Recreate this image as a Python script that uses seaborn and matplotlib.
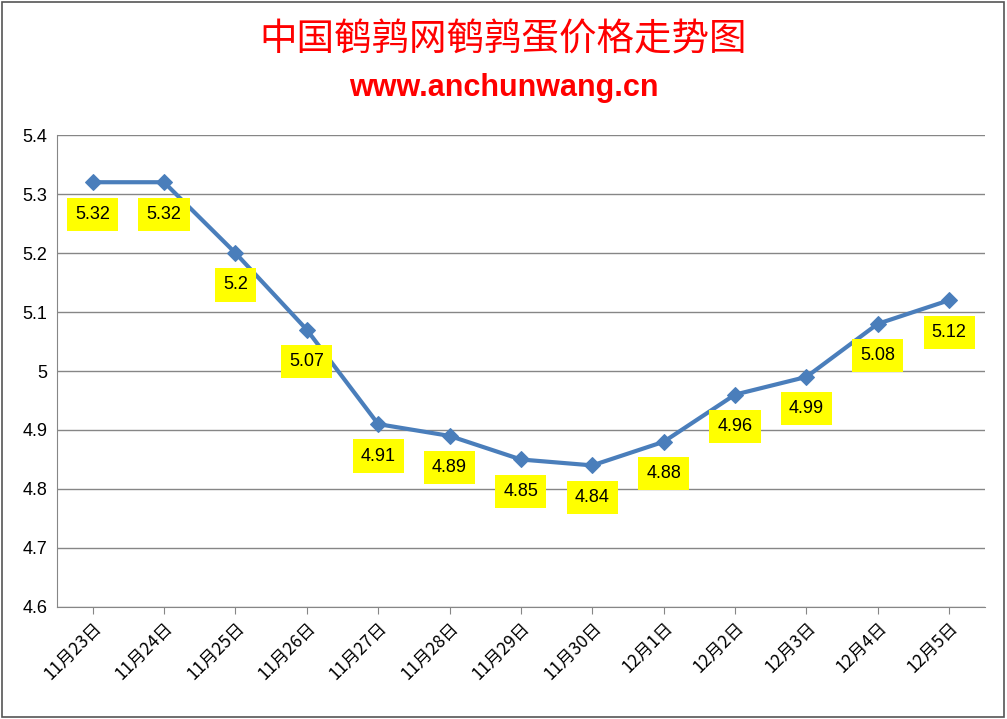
import matplotlib
matplotlib.use("Agg")
import matplotlib.pyplot as plt
import seaborn as sns
import pandas as pd
from matplotlib.patches import Rectangle

# --- Data ---
dates = ['11月23日', '11月24日', '11月25日', '11月26日', '11月27日', '11月28日', '11月29日',
         '11月30日', '12月1日', '12月2日', '12月3日', '12月4日', '12月5日']
prices = [5.32, 5.32, 5.2, 5.07, 4.91, 4.89, 4.85, 4.84, 4.88, 4.96, 4.99, 5.08, 5.12]
y_ticks = [4.6, 4.7, 4.8, 4.9, 5.0, 5.1, 5.2, 5.3, 5.4]
y_tick_labels = ['4.6', '4.7', '4.8', '4.9', '5', '5.1', '5.2', '5.3', '5.4']

df = pd.DataFrame({'pos': range(len(dates)), 'price': prices})

sns.set_style("white")
plt.rcParams['font.family'] = ['Noto Sans CJK SC', 'DejaVu Sans']

fig = plt.figure(figsize=(10.07, 7.19), dpi=100)
ax = fig.add_axes([0.0566, 0.1558, 0.9214, 0.6564])

sns.lineplot(data=df, x='pos', y='price', ax=ax, color='#4A7EBB', linewidth=3,
             marker='D', markersize=8, markeredgecolor='#4A7EBB')

for i, p in enumerate(prices):
    ax.annotate(f'{p:g}', (i, p), xytext=(0, -23), textcoords='offset points',
                ha='center', va='center', fontsize=13, family=['Liberation Sans'],
                color='black',
                bbox=dict(boxstyle='square,pad=0.45', fc='#FFFF00', ec='none'))

ax.set_xlim(-0.5, len(dates) - 0.5)
ax.set_ylim(4.6, 5.4)
ax.set_yticks(y_ticks)
ax.set_yticklabels(y_tick_labels, fontsize=13, family=['Liberation Sans'], color='black')
ax.set_xticks(range(len(dates)))
ax.set_xticklabels(dates, rotation=45, ha='right', rotation_mode='anchor', fontsize=12.5,
                   color='black')
ax.set_xlabel('')
ax.set_ylabel('')
ax.yaxis.grid(True, color='#868686', linewidth=1)
for s in ['top', 'right']:
    ax.spines[s].set_visible(False)
ax.spines['left'].set_color('#868686')
ax.spines['bottom'].set_color('#868686')
ax.tick_params(axis='x', length=5, color='#868686', direction='out', bottom=True)

fig.text(0.5, 0.945, '中国鹌鹑网鹌鹑蛋价格走势图', color='#FF0000', fontsize=27,
         ha='center', va='center')
fig.text(0.5, 0.878, 'www.anchunwang.cn', color='#FF0000', fontsize=22, fontweight='bold',
         ha='center', va='center', family=['Liberation Sans'])

fig.patches.append(Rectangle((0.002, 0.003), 0.995, 0.994, transform=fig.transFigure,
                             fill=False, ec='#555555', lw=1.2))

fig.savefig('out.png', dpi=100)
